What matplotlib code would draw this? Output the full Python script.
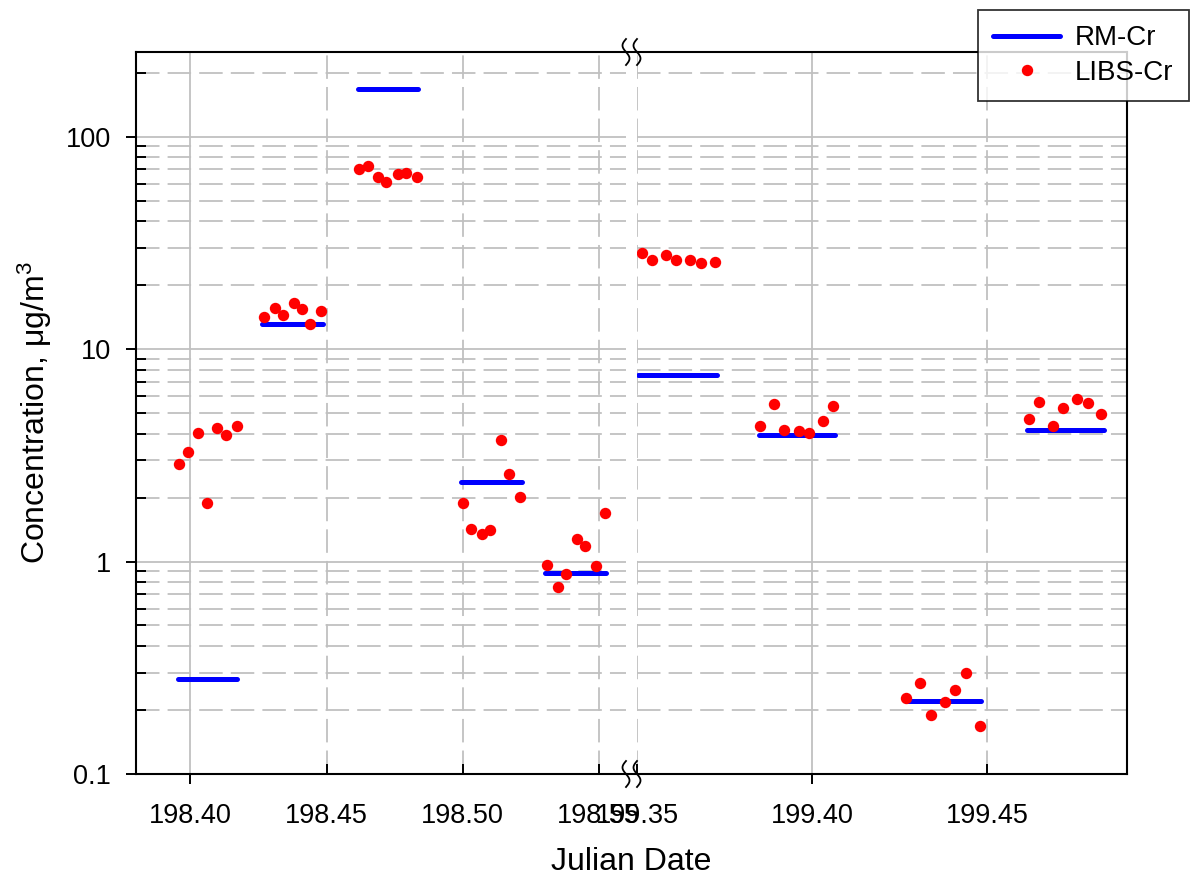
import numpy as np
import matplotlib
matplotlib.use('Agg')
import matplotlib.pyplot as plt
from matplotlib.ticker import FixedLocator, FixedFormatter, NullFormatter
from matplotlib.lines import Line2D

plt.rcParams['font.family'] = ['Liberation Sans', 'DejaVu Sans']
plt.rcParams['mathtext.fontset'] = 'custom'
plt.rcParams['mathtext.rm'] = 'Liberation Sans'
plt.rcParams['mathtext.it'] = 'Liberation Sans:italic'

# LIBS-Cr measurements (Julian date, ug/m3)
libs_day = [198.3959, 198.3990, 198.4029, 198.4060, 198.4099, 198.4130, 198.4171,
            198.4270, 198.4310, 198.4340, 198.4380, 198.4410, 198.4441, 198.4480,
            198.4619, 198.4651, 198.4689, 198.4720, 198.4761, 198.4791, 198.4831,
            198.5000, 198.5031, 198.5070, 198.5102, 198.5139, 198.5172, 198.5211,
            198.5310, 198.5350, 198.5381, 198.5421, 198.5451, 198.5491, 198.5522,
            199.3514, 199.3542, 199.3581, 199.3611, 199.3650, 199.3681, 199.3721,
            199.3850, 199.3890, 199.3920, 199.3961, 199.3991, 199.4030, 199.4060,
            199.4269, 199.4309, 199.4339, 199.4379, 199.4409, 199.4439, 199.4479,
            199.4619, 199.4649, 199.4689, 199.4718, 199.4758, 199.4789, 199.4827]
libs_cr = [2.89, 3.26, 4.02, 1.88, 4.23, 3.93, 4.35,
           14.2, 15.6, 14.4, 16.5, 15.5, 13.1, 15.1,
           70.7, 72.4, 64.5, 60.9, 66.4, 67.4, 64.5,
           1.88, 1.42, 1.35, 1.41, 3.75, 2.58, 2.01,
           0.96, 0.76, 0.875, 1.28, 1.18, 0.95, 1.70,
           28.3, 26.3, 27.8, 26.3, 26.3, 25.3, 25.6,
           4.35, 5.49, 4.15, 4.10, 4.02, 4.59, 5.37,
           0.229, 0.269, 0.189, 0.219, 0.248, 0.299, 0.169,
           4.67, 5.62, 4.33, 5.27, 5.79, 5.58, 4.94]

# RM-Cr reference method averages
rm_start = [198.3955, 198.4264, 198.4617, 198.4994, 198.5304,
            199.3501, 199.3847, 199.4269, 199.4614]
rm_end = [198.4172, 198.4486, 198.4836, 198.5217, 198.5528,
          199.3727, 199.4064, 199.4483, 199.4833]
rm_cr = [0.28, 13.1, 168, 2.37, 0.88, 7.57, 3.92, 0.221, 4.18]

W, H = 1193, 881
fig = plt.figure(figsize=(W/100, H/100), dpi=100)
ax1 = fig.add_axes([136/W, 1-774/H, 490/W, 722/H])
ax2 = fig.add_axes([637/W, 1-774/H, 490/W, 722/H])

segs = [(ax1, 198.38, 198.56, [198.40], [198.45, 198.50, 198.55]),
        (ax2, 199.35, 199.49, [199.40], [199.35, 199.45])]

gridc = '#c0c0c0'
for ax, x0, x1, xmaj, xmin in segs:
    d = np.array(libs_day)
    c = np.array(libs_cr)
    m = (d >= x0) & (d <= x1)
    for s, e, v in zip(rm_start, rm_end, rm_cr):
        if s >= x0 - 0.001 and s <= x1:
            ax.plot([s, e], [v, v], color='#0000ff', lw=3.6, solid_capstyle='round', zorder=3)
    ax.plot(d[m], c[m], 'o', color='#ff0000', ms=8.2, mec='none', zorder=4)

    ax.set_yscale('log')
    ax.set_ylim(0.1, 250)
    ax.set_xlim(x0 - 0.0001 if ax is ax2 else x0, x1)
    ax.yaxis.set_major_locator(FixedLocator([0.1, 1, 10, 100]))
    ax.yaxis.set_major_formatter(FixedFormatter(['0.1', '1', '10', '100']))
    ax.yaxis.set_minor_locator(FixedLocator([k * 10.0**p for p in range(-1, 3) for k in range(2, 10) if k * 10.0**p < 250]))
    ax.yaxis.set_minor_formatter(NullFormatter())
    ax.xaxis.set_major_locator(FixedLocator(xmaj))
    ax.xaxis.set_major_formatter(FixedFormatter(['%.2f' % v for v in xmaj]))
    ax.xaxis.set_minor_locator(FixedLocator(xmin))
    ax.xaxis.set_minor_formatter(FixedFormatter(['%.2f' % v for v in xmin]))

    ax.grid(which='major', color=gridc, lw=1.3, ls='-', zorder=0)
    ax.grid(which='minor', color=gridc, lw=1.3, ls=(0, (13, 4.5)), zorder=0)
    ax.set_axisbelow(True)

    ax.tick_params(axis='x', which='major', direction='out', length=7, width=1.4, pad=14, labelsize=19.5)
    ax.tick_params(axis='x', which='minor', direction='in', length=7, width=1.4, pad=21, labelsize=19.5)
    ax.tick_params(axis='y', which='major', direction='out', length=7, width=1.4, pad=11, labelsize=19.5)
    ax.tick_params(axis='y', which='minor', direction='in', length=7, width=1.4)
    for sp in ax.spines.values():
        sp.set_linewidth(1.5)

ax1.spines['right'].set_visible(False)
ax2.spines['left'].set_visible(False)
ax2.tick_params(axis='y', which='both', left=False, labelleft=False)

# connect the spines across the break and draw break marks
for yy in (52, 774):
    fig.add_artist(Line2D([626/W, 637/W], [1-yy/H, 1-yy/H], color='black', lw=1.5))
    for xx in (626, 637):
        t = np.linspace(0, 1, 40)
        px = xx - 3.5 * np.sin(2 * np.pi * t)
        py = yy - 13 + 26 * t
        fig.add_artist(Line2D(px/W, 1-py/H, color='black', lw=1.3))

fig.text(35/W, 1-413/H, 'Concentration, μg/m$^3$', rotation=90, ha='center', va='center', fontsize=23)
fig.text(631/W, 1-862/H, 'Julian Date', ha='center', va='center', fontsize=23)

h1 = Line2D([], [], color='#0000ff', lw=3.6, solid_capstyle='round')
h2 = Line2D([], [], ls='none', marker='o', color='#ff0000', ms=8.2, mec='none')
leg = fig.legend([h1, h2], ['RM-Cr', 'LIBS-Cr'], loc='upper right',
                 bbox_to_anchor=(1189/W, 1-10/H), fontsize=20, frameon=True,
                 fancybox=False, handlelength=2.4, labelspacing=0.3,
                 borderpad=0.55, handletextpad=0.55, borderaxespad=0)
leg.get_frame().set_edgecolor('black')
leg.get_frame().set_linewidth(1.3)

fig.savefig('out.png', dpi=100)
